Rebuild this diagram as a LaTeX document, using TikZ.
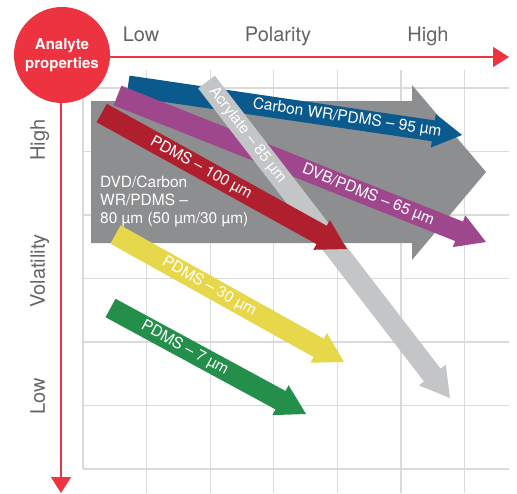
\documentclass[tikz,border=0pt]{standalone}
\usepackage{fontspec}
\setmainfont{TeX Gyre Heros}
\usetikzlibrary{calc,arrows.meta}
\definecolor{axisred}{HTML}{EE3340}
\definecolor{gridgray}{HTML}{DADADA}
\definecolor{labelgray}{HTML}{636466}
\definecolor{dvdgray}{HTML}{8D8E90}
\definecolor{carbonblue}{HTML}{0A5A8E}
\definecolor{dvbpurple}{HTML}{9F478D}
\definecolor{acrylgray}{HTML}{C4C5C7}
\definecolor{pdmsred}{HTML}{AF1F2D}
\definecolor{pdmsyellow}{HTML}{E6D84A}
\definecolor{pdmsgreen}{HTML}{238F4A}
% fat arrow: colour, tail, tip
\newcommand{\fatarrow}[3]{%
  \coordinate (#2h) at ($(#3)!29pt!(#2)$);
  \fill[#1] ($(#2)!10.5pt!90:(#3)$) -- ($(#2h)!10.5pt!90:(#3)$) -- ($(#2h)!17pt!90:(#3)$) -- (#3)
    -- ($(#2h)!17pt!-90:(#3)$) -- ($(#2h)!10.5pt!-90:(#3)$) -- ($(#2)!10.5pt!-90:(#3)$) -- cycle;}
\begin{document}
\begin{tikzpicture}[x=1pt,y=-1pt,
    gridline/.style={gridgray, line width=1.2pt},
    axis/.style={axisred, line width=1.5pt, -{Triangle[length=16pt,width=20pt]}},
    axislabel/.style={labelgray, font=\fontsize{20}{24}\selectfont, anchor=base},
    arrowlabel/.style={text=white, font=\fontsize{15.5}{18}\selectfont, sloped, inner sep=0pt}]
\useasboundingbox (0,0) rectangle (517,493);
% grid
\foreach \i in {1,...,6} \draw[gridline] (83+63.6*\i,70) -- (83+63.6*\i,493);
\foreach \j in {0,...,6} \draw[gridline] (83,88+63.5*\j) -- (509,88+63.5*\j);
\draw[gridline] (83,88) -- (83,469);
% axes
\node[circle, fill=axisred, minimum size=96pt, inner sep=0pt, text=white, align=center,
  font=\bfseries\fontsize{15}{19}\selectfont] (props) at (62,55) {Analyte\\properties};
\coordinate (polend) at (509,57);
\coordinate (volend) at (61,493);
\draw[axis] (props.east |- polend) -- (polend);
\draw[axis] (props.south -| volend) -- (volend);
\node[axislabel] (pollow) at (141,41) {Low};
\node[axislabel] (polname) at (278,41) {Polarity};
\node[axislabel] (polhigh) at (428,41) {High};
\node[axislabel, rotate=90] (volhigh) at (45,140) {High};
\node[axislabel, rotate=90] (volname) at (45,271) {Volatility};
\node[axislabel, rotate=90] (vollow) at (45,396) {Low};
% fibres
\fill[dvdgray] (91,101) -- (412,101) -- (412,85) -- (486,172) -- (412,260) -- (412,243) -- (91,243) -- cycle;
\node[text=white, font=\fontsize{15.5}{18}\selectfont, align=left, anchor=base west, inner sep=0pt]
  (dvdlabel) at (100,223) {DVD/Carbon\\WR/PDMS –\\80 µm (50 µm/30 µm)};
\coordinate (blueA) at (128,86);
\coordinate (blueB) at (462,135);
\fatarrow{carbonblue}{blueA}{blueB}
\path (blueA) -- (blueB) node[arrowlabel, pos=0.656] (bluelabel) {Carbon WR/PDMS – 95 µm};
\coordinate (purpleA) at (117.5,95.5);
\coordinate (purpleB) at (486,242);
\fatarrow{dvbpurple}{purpleA}{purpleB}
\path (purpleA) -- (purpleB) node[arrowlabel, pos=0.68] (purplelabel) {DVB/PDMS – 65 µm};
\coordinate (acrylA) at (206.5,82);
\coordinate (acrylB) at (450,398);
\fatarrow{acrylgray}{acrylA}{acrylB}
\path (acrylA) -- (acrylB) node[arrowlabel, pos=0.168] (acryllabel) {Acrylate – 85 µm};
\coordinate (redA) at (101.7,113);
\coordinate (redB) at (347,249);
\fatarrow{pdmsred}{redA}{redB}
\path (redA) -- (redB) node[arrowlabel, pos=0.405] (redlabel) {PDMS – 100 µm};
\coordinate (yellowA) at (115.5,234.5);
\coordinate (yellowB) at (344,362);
\fatarrow{pdmsyellow}{yellowA}{yellowB}
\path (yellowA) -- (yellowB) node[arrowlabel, pos=0.41] (yellowlabel) {PDMS – 30 µm};
\coordinate (greenA) at (110.5,308);
\coordinate (greenB) at (306,414);
\fatarrow{pdmsgreen}{greenA}{greenB}
\path (greenA) -- (greenB) node[arrowlabel, pos=0.38] (greenlabel) {PDMS – 7 µm};
\end{tikzpicture}
\end{document}
